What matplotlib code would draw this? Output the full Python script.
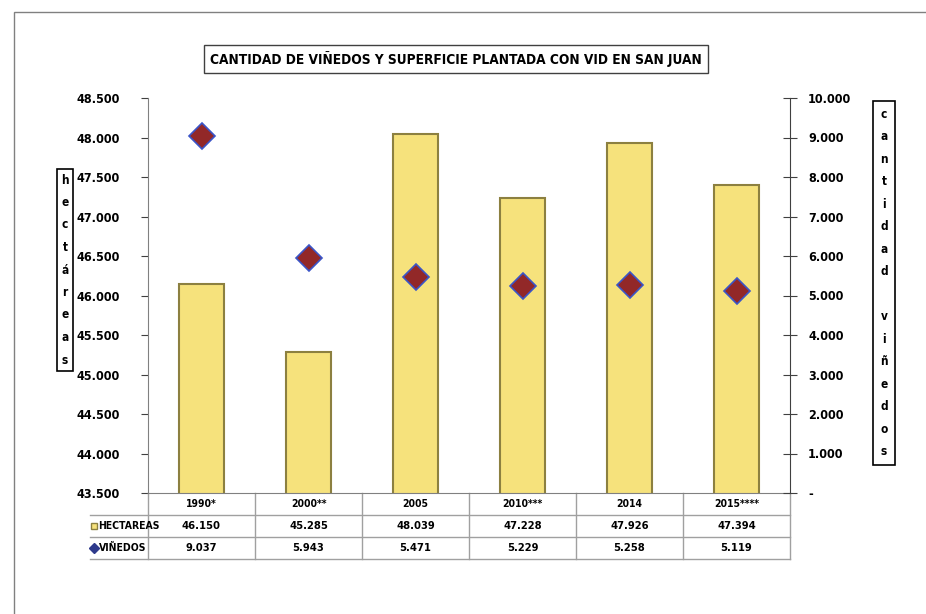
#libraries
import matplotlib
matplotlib.use('Agg')
import matplotlib.pyplot as plt
from matplotlib.patches import Rectangle
from matplotlib.ticker import FuncFormatter, MultipleLocator

plt.rcParams['font.family'] = ['DejaVu Sans']
plt.rcParams['font.stretch'] = 'condensed'
plt.rcParams['font.weight'] = 'bold'

years = ['1990*', '2000**', '2005', '2010***', '2014', '2015****']
hectareas = [46150, 45285, 48039, 47228, 47926, 47394]
vinedos = [9037, 5943, 5471, 5229, 5258, 5119]

def miles(v, pos=None):
    if v == 0:
        return '-'
    return f'{v:,.0f}'.replace(',', '.')

W, H = 926, 614
fig = plt.figure(figsize=(W / 100, H / 100), dpi=100)

#outer chart border
fig.patches.append(Rectangle((14 / W, -0.1), 1.2, 1 - 12 / H + 0.1, transform=fig.transFigure,
                             fill=False, edgecolor='#808080', linewidth=1))

ax = fig.add_axes([148 / W, 1 - 493 / H, 642 / W, 395 / H])
x = list(range(len(years)))

#bars for hectares (left axis)
ax.bar(x, hectareas, width=0.42, color='#F6E27C', edgecolor='#8C8040', linewidth=1.5, zorder=2)
ax.set_ylim(43500, 48500)
ax.set_xlim(-0.5, len(years) - 0.5)
ax.yaxis.set_major_locator(MultipleLocator(500))
ax.yaxis.set_major_formatter(FuncFormatter(miles))
ax.tick_params(axis='y', labelsize=9, length=5, pad=15, color='#404040')
ax.set_xticks([])
for s in ['top', 'right']:
    ax.spines[s].set_visible(False)
ax.spines['left'].set_color('#808080')
ax.spines['bottom'].set_color('#808080')

#diamonds for vineyards (right axis)
ax2 = ax.twinx()
ax2.plot(x, vinedos, linestyle='none', marker='D', markersize=13, markerfacecolor='#922828',
         markeredgecolor='#3A55C8', markeredgewidth=1.2, zorder=3)
ax2.set_ylim(0, 10000)
ax2.yaxis.set_major_locator(MultipleLocator(1000))
ax2.yaxis.set_major_formatter(FuncFormatter(miles))
ax2.tick_params(axis='y', labelsize=9, length=10, direction='inout', pad=8, color='#404040')
ax2.spines['right'].set_color('#404040')
for s in ['top', 'left', 'bottom']:
    ax2.spines[s].set_visible(False)

#data table below the plot
tr = ax.get_xaxis_transform()
row_h = 22 / 395
left_ext = -0.5 - 58 / 107
for i in range(1, 4):
    ax.plot([left_ext, len(years) - 0.5], [-i * row_h] * 2, transform=tr, color='#A0A0A0',
            linewidth=1, clip_on=False)
for k in range(len(years) + 1):
    ax.plot([k - 0.5] * 2, [0, -3 * row_h], transform=tr, color='#A0A0A0',
            linewidth=1, clip_on=False)
for k, yr in enumerate(years):
    ax.text(k, -0.5 * row_h, yr, transform=tr, ha='center', va='center', fontsize=7.5)
    ax.text(k, -1.5 * row_h, miles(hectareas[k]), transform=tr, ha='center', va='center', fontsize=8)
    ax.text(k, -2.5 * row_h, miles(vinedos[k]), transform=tr, ha='center', va='center', fontsize=8)

#row labels with legend keys
ax.plot([left_ext + 0.04], [-1.5 * row_h], transform=tr, marker='s', markersize=5,
        color='#F6E27C', markeredgecolor='#8C8040', clip_on=False)
ax.text(left_ext + 0.08, -1.5 * row_h, 'HECTAREAS', transform=tr, ha='left', va='center', fontsize=7.5)
ax.plot([left_ext + 0.04], [-2.5 * row_h], transform=tr, marker='D', markersize=5,
        color='#2E3A8C', clip_on=False)
ax.text(left_ext + 0.08, -2.5 * row_h, 'VIÑEDOS', transform=tr, ha='left', va='center', fontsize=7.5)

#title in a box
fig.text(456 / W, 1 - 59 / H, 'CANTIDAD DE VIÑEDOS Y SUPERFICIE PLANTADA CON VID EN SAN JUAN',
         ha='center', va='center', fontsize=9.8,
         bbox=dict(boxstyle='square,pad=0.45', facecolor='white', edgecolor='#404040', linewidth=1))

#vertical axis titles, one letter per line
fig.text(65 / W, 1 - 270 / H, '\n'.join('hectáreas'), ha='center', va='center', fontsize=8.5,
         linespacing=1.95,
         bbox=dict(boxstyle='square,pad=0.35', facecolor='white', edgecolor='black', linewidth=1.2))
fig.text(884 / W, 1 - 283 / H, '\n'.join('cantidad viñedos'), ha='center', va='center', fontsize=8.5,
         linespacing=1.95,
         bbox=dict(boxstyle='square,pad=0.6', facecolor='white', edgecolor='black', linewidth=1.2))

plt.savefig('out.png', dpi=100)
